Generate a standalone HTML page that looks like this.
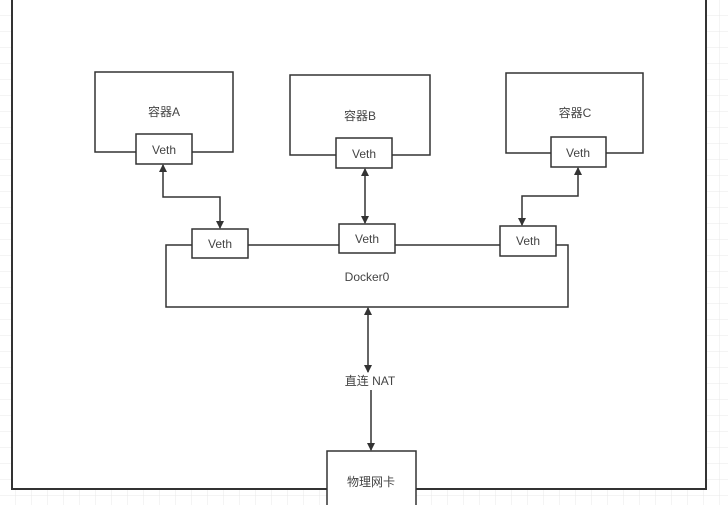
<!DOCTYPE html>
<html><head><meta charset="utf-8"><style>
body{margin:0;background:#fff;width:728px;height:505px;overflow:hidden;font-family:"Liberation Sans","Noto Sans CJK SC",sans-serif}
</style></head><body>
<svg width="728" height="505" viewBox="0 0 728 505" xmlns="http://www.w3.org/2000/svg">
<defs>
<pattern id="g" width="16" height="16" patternUnits="userSpaceOnUse"><path d="M16 0V16H0" fill="none" stroke="#e8e8e8" stroke-width="1"/></pattern>
<marker id="a" markerWidth="8" markerHeight="8" refX="7" refY="4" orient="auto-start-reverse" markerUnits="userSpaceOnUse"><path d="M0,0L8,4L0,8z" fill="#333"/></marker>
</defs>
<rect width="728" height="505" fill="url(#g)"/>
<rect x="12" y="-5" width="694" height="494" fill="#fff" stroke="#333" stroke-width="2"/>
<g fill="#fff" stroke="#333" stroke-width="1.5">
<rect x="95" y="72" width="138" height="80"/>
<rect x="290" y="75" width="140" height="80"/>
<rect x="506" y="73" width="137" height="80"/>
<rect x="166" y="245" width="402" height="62"/>
<rect x="136" y="134" width="56" height="30"/>
<rect x="336" y="138" width="56" height="30"/>
<rect x="551" y="137" width="55" height="30"/>
<rect x="192" y="229" width="56" height="29"/>
<rect x="339" y="224" width="56" height="29"/>
<rect x="500" y="226" width="56" height="30"/>
<rect x="327" y="451" width="89" height="60"/>
</g>
<g fill="none" stroke="#333" stroke-width="1.5" marker-start="url(#a)" marker-end="url(#a)">
<path d="M163 165V197H220V228"/>
<path d="M365 169V223"/>
<path d="M578 168V196H522V225"/>
<path d="M368 308V372"/>
</g>
<path d="M371 390V450" fill="none" stroke="#333" stroke-width="1.5" marker-end="url(#a)"/>
<g font-size="12" fill="#444" text-anchor="middle">
<text x="164" y="116">容器A</text>
<text x="360" y="120">容器B</text>
<text x="575" y="117">容器C</text>
<text x="164" y="154">Veth</text>
<text x="364" y="158">Veth</text>
<text x="578" y="157">Veth</text>
<text x="220" y="248">Veth</text>
<text x="367" y="243">Veth</text>
<text x="528" y="245">Veth</text>
<text x="367" y="281">Docker0</text>
<text x="370" y="385">直连 NAT</text>
<text x="371" y="486">物理网卡</text>
</g>
</svg>
</body></html>
